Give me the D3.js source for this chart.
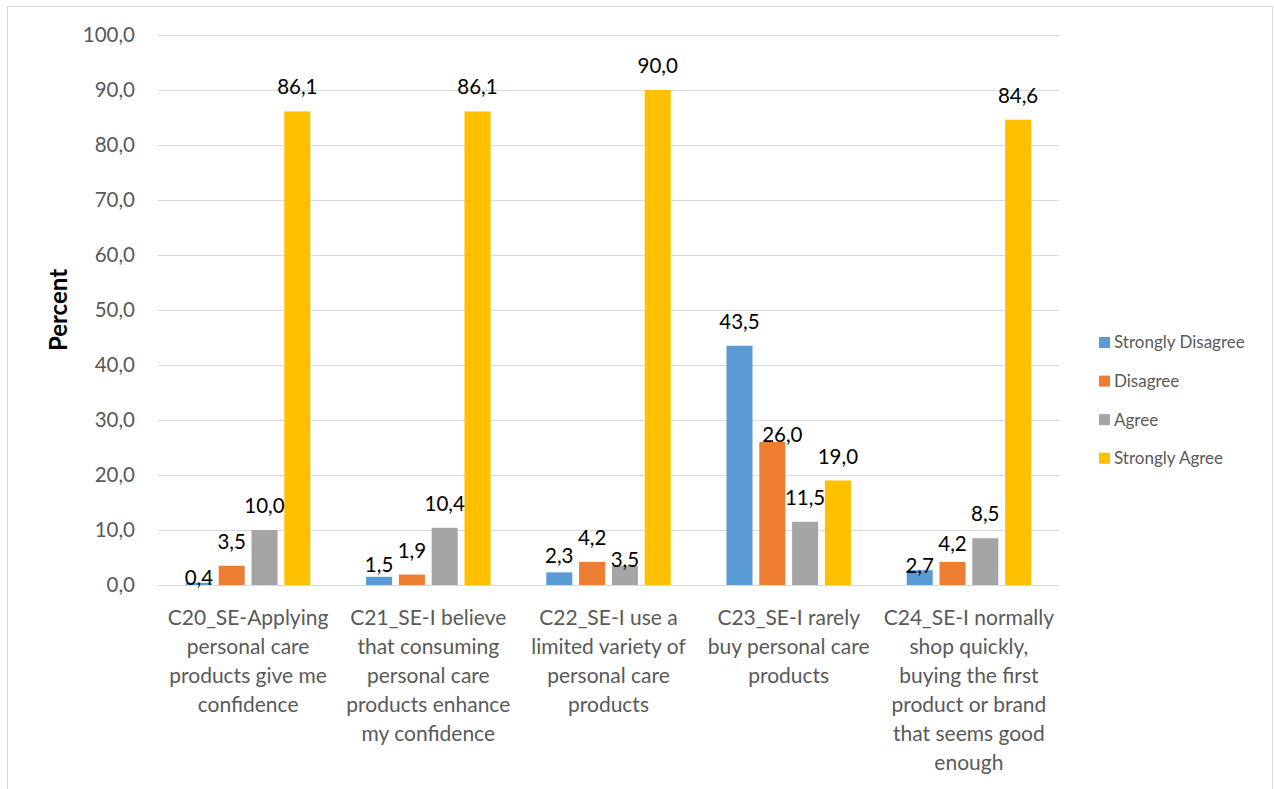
<!DOCTYPE html>
<html>
<head>
<meta charset="utf-8">
<script src="https://cdn.jsdelivr.net/npm/d3@7"></script>
<style>
  html, body { margin: 0; padding: 0; background: #fff; }
  svg { display: block; font-family: Lato, "Open Sans", sans-serif; }
</style>
</head>
<body>
<svg id="chart" width="1274" height="789"></svg>
<script>
// ---- data ----
const categories = [
  "C20_SE-Applying personal care products give me confidence",
  "C21_SE-I believe that consuming personal care products enhance my confidence",
  "C22_SE-I use a limited variety of personal care products",
  "C23_SE-I rarely buy personal care products",
  "C24_SE-I normally shop quickly, buying the first product or brand that seems good enough"
];
const categoryLines = [
  ["C20_SE-Applying", "personal care", "products give me", "confidence"],
  ["C21_SE-I believe", "that consuming", "personal care", "products enhance", "my confidence"],
  ["C22_SE-I use a", "limited variety of", "personal care", "products"],
  ["C23_SE-I rarely", "buy personal care", "products"],
  ["C24_SE-I normally", "shop quickly,", "buying the first", "product or brand", "that seems good", "enough"]
];
const seriesNames = ["Strongly Disagree", "Disagree", "Agree", "Strongly Agree"];
const stronglyDisagree = [0.4, 1.5, 2.3, 43.5, 2.7];
const disagree         = [3.5, 1.9, 4.2, 26.0, 4.2];
const agree            = [10.0, 10.4, 3.5, 11.5, 8.5];
const stronglyAgree    = [86.1, 86.1, 90.0, 19.0, 84.6];
const yTicks = [0, 10, 20, 30, 40, 50, 60, 70, 80, 90, 100];

// ---- style / layout ----
const colors = ["#5B9BD5", "#ED7D31", "#A5A5A5", "#FFC000"];
const seriesValues = [stronglyDisagree, disagree, agree, stronglyAgree];
// label nudges (layout only): key "catIndex-seriesIndex" -> [dx, dy]
const labelNudge = {
  "0-0": [0, 19], "1-0": [0, 12], "2-0": [0, 8], "2-2": [0, 18],
  "3-1": [10, 17], "4-0": [0, 20], "4-1": [0, 6]
};

const svg = d3.select("#chart");
const plot = { left: 158, right: 1059, top: 35, bottom: 585 };

// outer border
svg.append("rect")
  .attr("x", 7.5).attr("y", 6.5).attr("width", 1265).attr("height", 800)
  .attr("fill", "none").attr("stroke", "#D9D9D9").attr("stroke-width", 1);

const y = d3.scaleLinear().domain([0, 100]).range([plot.bottom, plot.top]);
const x0 = d3.scaleBand().domain(d3.range(categories.length))
  .range([plot.left, plot.right]).paddingInner(0).paddingOuter(0);
const x1 = d3.scaleBand().domain(d3.range(seriesNames.length))
  .range([0, x0.bandwidth()]).paddingInner(0.207).paddingOuter(0.85);

// gridlines
svg.append("g").selectAll("line").data(yTicks).join("line")
  .attr("x1", plot.left).attr("x2", plot.right)
  .attr("y1", d => Math.round(y(d)) + 0.5).attr("y2", d => Math.round(y(d)) + 0.5)
  .attr("stroke", "#D9D9D9").attr("stroke-width", 1);

// y axis labels
const fmt = d => d.toFixed(1).replace(".", ",");
svg.append("g").selectAll("text").data(yTicks).join("text")
  .attr("x", 135).attr("y", d => y(d)).attr("dy", "0.35em")
  .attr("text-anchor", "end").attr("fill", "#595959")
  .attr("font-size", 20.5).text(fmt);

// y axis title
svg.append("text")
  .attr("transform", `translate(67,310) rotate(-90)`)
  .attr("text-anchor", "middle").attr("font-weight", "bold")
  .attr("font-size", 24).attr("fill", "#000").text("Percent");

// bars
const rows = [];
categories.forEach((c, ci) => seriesValues.forEach((vals, si) => rows.push({ ci, si, v: vals[ci] })));
svg.append("g").selectAll("rect").data(rows).join("rect")
  .attr("x", d => x0(d.ci) + x1(d.si))
  .attr("width", x1.bandwidth())
  .attr("y", d => y(d.v))
  .attr("height", d => y(0) - y(d.v))
  .attr("fill", d => colors[d.si]);

// data labels
svg.append("g").selectAll("text").data(rows).join("text")
  .attr("x", d => x0(d.ci) + x1(d.si) + x1.bandwidth() / 2 + (labelNudge[d.ci + "-" + d.si] || [0, 0])[0])
  .attr("y", d => y(d.v) - 17 + (labelNudge[d.ci + "-" + d.si] || [0, 0])[1])
  .attr("text-anchor", "middle").attr("fill", "#000")
  .attr("font-size", 20.5).text(d => fmt(d.v));

// category labels
const cg = svg.append("g").selectAll("text").data(categoryLines).join("text")
  .attr("text-anchor", "middle").attr("fill", "#595959").attr("font-size", 21);
cg.each(function(lines, i) {
  d3.select(this).selectAll("tspan").data(lines).join("tspan")
    .attr("x", x0(i) + x0.bandwidth() / 2)
    .attr("y", (d, j) => 625 + j * 29)
    .text(d => d);
});

// legend
const legend = svg.append("g").selectAll("g").data(seriesNames).join("g")
  .attr("transform", (d, i) => `translate(1099,${342.5 + i * 38.6})`);
legend.append("rect").attr("x", 0).attr("y", -5.5).attr("width", 11).attr("height", 11)
  .attr("fill", (d, i) => colors[i]);
legend.append("text").attr("x", 15).attr("y", 0).attr("dy", "0.35em")
  .attr("fill", "#595959").attr("font-size", 17).text(d => d);
</script>
</body>
</html>
